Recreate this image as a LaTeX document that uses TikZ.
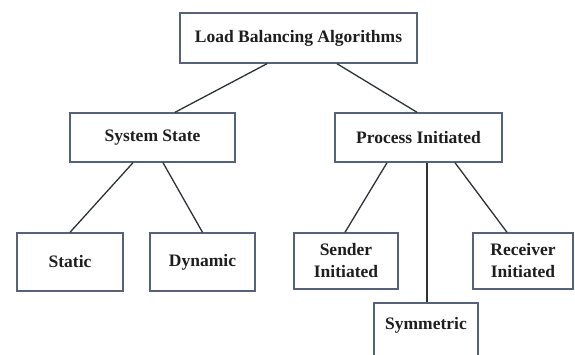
\documentclass[tikz,border=0pt]{standalone}
\usepackage{fontspec}
\setmainfont{Liberation Serif}
\definecolor{boxline}{HTML}{56627A}
\definecolor{conline}{HTML}{2E3238}
\definecolor{txt}{HTML}{1E1E1E}
\tikzset{
  box/.style={draw=boxline, line width=1.4pt, fill=white, inner sep=0pt, align=center,
    text=txt, font=\fontsize{17.5}{22}\selectfont\bfseries},
  con/.style={draw=conline, line width=1.3pt}
}
\begin{document}
\begin{tikzpicture}[x=1pt,y=-1pt]
\useasboundingbox (0,0) rectangle (575,354);
\clip (0,0) rectangle (575,354);
\fill[white] (0,0) rectangle (575,354);
\node[box, minimum width=237pt, minimum height=50pt] (top) at (298.5,38) {Load Balancing Algorithms};
\node[box, minimum width=165pt, minimum height=49pt] (sys) at (152.5,137.5) {System State};
\node[box, minimum width=167pt, minimum height=49pt] (proc) at (418.5,137.5) {Process Initiated};
\node[box, minimum width=106pt, minimum height=58pt] (static) at (70,262) {Static};
\node[box, minimum width=105pt, minimum height=58pt] (dyn) at (202.5,262) {Dynamic};
\node[box, minimum width=104pt, minimum height=56pt] (send) at (346,261) {Sender\\Initiated};
\node[box, minimum width=100pt, minimum height=56pt] (recv) at (523,261) {Receiver\\Initiated};
\node[box, minimum width=104pt, minimum height=62pt] (sym) at (426,334) {};
\node[box, draw=none, fill=none] (symtxt) at (426,325) {Symmetric};
\draw[con] ([xshift=-31.5pt]top.south) -- ([xshift=22.5pt]sys.north);
\draw[con] ([xshift=38.5pt]top.south) -- ([xshift=-1.5pt]proc.north);
\draw[con] ([xshift=-19.5pt]sys.south) -- (static.north);
\draw[con] ([xshift=10.5pt]sys.south) -- (dyn.north);
\draw[con] ([xshift=-31.5pt]proc.south) -- ([xshift=-1pt]send.north);
\draw[con] ([xshift=8.5pt]proc.south) -- ([xshift=1pt]sym.north);
\draw[con] ([xshift=36.5pt]proc.south) -- ([xshift=-16pt]recv.north);
\end{tikzpicture}
\end{document}
